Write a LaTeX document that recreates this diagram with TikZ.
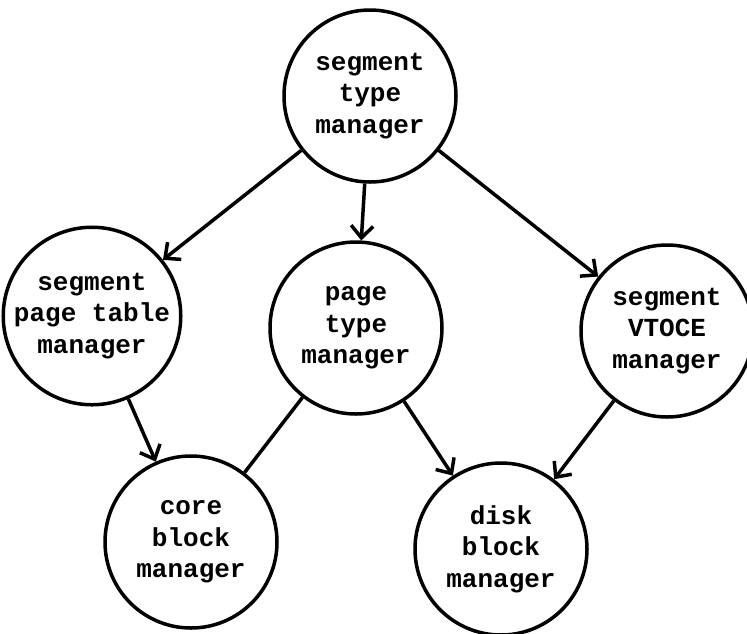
\documentclass[tikz,border=0pt]{standalone}
\usepackage{fontspec}
\setmonofont{Liberation Mono}
\usetikzlibrary{arrows.meta}

\begin{document}
\begin{tikzpicture}[x=1pt, y=-1pt,
		mgr/.style={circle, draw, line width=3.5pt, minimum size=172pt, inner sep=0pt,
			align=center, font=\fontsize{26}{31.5}\selectfont\ttfamily\bfseries},
		arr/.style={-{Straight Barb[length=12pt, width=22pt, line width=3.5pt]}, line width=3.5pt}]
	\useasboundingbox (0, 0) rectangle (747, 633);
	\node [mgr] (segtype) at (370, 96) {segment\\type\\manager};
	\node [mgr] (segpt) at (92, 316) {segment\\page table\\manager};
	\node [mgr] (pagetype) at (356, 328) {page\\type\\manager};
	\node [mgr] (vtoce) at (667, 331) {segment\\VTOCE\\manager};
	\node [mgr] (coreblk) at (191, 542) {core\\block\\manager};
	\node [mgr] (diskblk) at (501, 549) {disk\\block\\manager};
	\draw [arr] (segtype) -- (segpt);
	\draw [arr] (segtype) -- (pagetype);
	\draw [arr] (segtype) -- (vtoce);
	\draw [arr] (segpt) -- (coreblk);
	\draw [line width=3.5pt] (pagetype) -- (coreblk);
	\draw [arr] (pagetype) -- (diskblk);
	\draw [arr] (vtoce) -- (diskblk);
\end{tikzpicture}
\end{document}
